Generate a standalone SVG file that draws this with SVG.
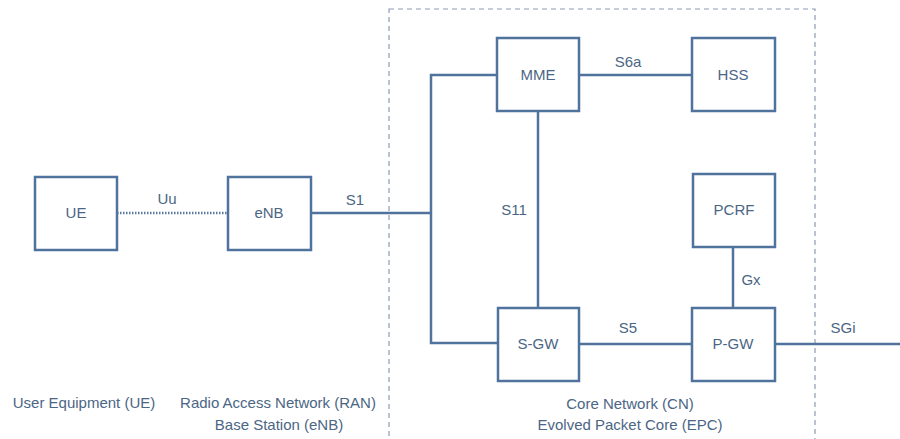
<svg xmlns="http://www.w3.org/2000/svg" width="900" height="439" viewBox="0 0 900 439">
<style>
.box{fill:#fff;stroke:#4f739c;stroke-width:2.5}
.ln{fill:none;stroke:#4f739c;stroke-width:2.5}
.dot{fill:none;stroke:#5a7aa0;stroke-width:2.5;stroke-dasharray:1.5 1.5}
.frame{fill:none;stroke:#8a9bb3;stroke-width:1.2;stroke-dasharray:5 4}
text{font-family:"Liberation Sans",Arial,sans-serif;font-size:15px;fill:#4b6685;text-anchor:middle}
</style>
<rect id="core-frame" class="frame" x="389" y="9" width="426" height="440"/>
<g id="connectors">
<path class="dot" d="M117 213H228"/>
<path class="ln" d="M311 213H431"/>
<path class="ln" d="M497 75H431V343H498"/>
<path class="ln" d="M579 75H692"/>
<path class="ln" d="M538 111V308"/>
<path class="ln" d="M579 344H692"/>
<path class="ln" d="M733 247V308"/>
<path class="ln" d="M775 344H900"/>
<text x="167" y="204">Uu</text>
<text x="355" y="205">S1</text>
<text x="628" y="67">S6a</text>
<text x="514" y="215">S11</text>
<text x="628" y="333">S5</text>
<text x="751" y="285">Gx</text>
<text x="843" y="333">SGi</text>
</g>
<g id="UE"><rect class="box" x="35" y="177" width="82" height="73"/><text x="76" y="218">UE</text></g>
<g id="eNB"><rect class="box" x="228" y="177" width="83" height="73"/><text x="269" y="218">eNB</text></g>
<g id="MME"><rect class="box" x="497" y="38" width="82" height="73"/><text x="538" y="80">MME</text></g>
<g id="HSS"><rect class="box" x="692" y="38" width="83" height="73"/><text x="733" y="80">HSS</text></g>
<g id="PCRF"><rect class="box" x="693" y="174" width="82" height="73"/><text x="734" y="215">PCRF</text></g>
<g id="S-GW"><rect class="box" x="498" y="308" width="81" height="73"/><text x="538" y="349">S-GW</text></g>
<g id="P-GW"><rect class="box" x="692" y="308" width="83" height="73"/><text x="733" y="349">P-GW</text></g>
<g id="labels">
<text x="84" y="408">User Equipment (UE)</text>
<text x="278" y="408">Radio Access Network (RAN)</text>
<text x="279" y="430">Base Station (eNB)</text>
<text x="630" y="409">Core Network (CN)</text>
<text x="630" y="430">Evolved Packet Core (EPC)</text>
</g>
</svg>
